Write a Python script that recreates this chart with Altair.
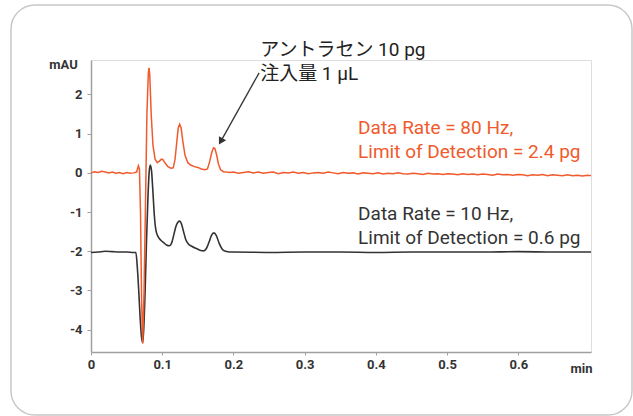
import altair as alt
import pandas as pd

# ---- data ----
# 80 Hz trace (orange)
t80 = [0.000, 0.005, 0.010, 0.015, 0.020, 0.025, 0.030, 0.035, 0.040, 0.045,
       0.050, 0.055, 0.060, 0.064, 0.0665, 0.068, 0.0695, 0.071, 0.0726, 0.0745,
       0.0765, 0.0785, 0.0805, 0.0815, 0.0825, 0.0845, 0.087, 0.090, 0.093, 0.096,
       0.099, 0.101, 0.104, 0.108, 0.112, 0.1155, 0.118, 0.1205, 0.1225, 0.1245,
       0.1265, 0.129, 0.132, 0.136, 0.140, 0.145, 0.150, 0.155, 0.160, 0.1635,
       0.1665, 0.1695, 0.172, 0.174, 0.1765, 0.179, 0.182, 0.186, 0.190, 0.195,
       0.200, 0.207, 0.214, 0.221, 0.228, 0.235, 0.242, 0.249, 0.256, 0.263,
       0.270, 0.277, 0.284, 0.291, 0.298, 0.305, 0.312, 0.319, 0.326, 0.333,
       0.340, 0.347, 0.354, 0.361, 0.368, 0.375, 0.382, 0.389, 0.396, 0.403,
       0.410, 0.417, 0.424, 0.431, 0.438, 0.445, 0.452, 0.459, 0.466, 0.473,
       0.480, 0.487, 0.494, 0.501, 0.508, 0.515, 0.522, 0.529, 0.536, 0.543,
       0.550, 0.557, 0.564, 0.571, 0.578, 0.585, 0.592, 0.599, 0.606, 0.613,
       0.620, 0.627, 0.634, 0.641, 0.648, 0.655, 0.662, 0.669, 0.676, 0.683,
       0.690, 0.697, 0.702]
v80 = [0.00, 0.03, 0.01, 0.04, 0.02, 0.00, 0.02, -0.01, 0.01, -0.02,
       0.01, -0.01, 0.00, 0.02, 0.18, 0.10, -1.00, -3.20, -4.35, -3.00,
       -0.80, 1.50, 2.55, 2.68, 2.50, 1.50, 0.70, 0.35, 0.26, 0.30,
       0.35, 0.34, 0.25, 0.16, 0.12, 0.13, 0.35, 0.80, 1.15, 1.24,
       1.15, 0.80, 0.45, 0.26, 0.20, 0.16, 0.14, 0.10, 0.08, 0.10,
       0.28, 0.52, 0.64, 0.62, 0.45, 0.22, 0.08, 0.03, 0.02, 0.01,
       0.02, -0.01, 0.01, 0.03, 0.00, 0.02, -0.01, 0.01, 0.02, -0.02,
       0.01, 0.00, 0.02, -0.01, 0.01, -0.02, 0.00, 0.01, -0.01, 0.02,
       0.00, -0.02, 0.01, -0.01, 0.00, -0.03, 0.00, -0.01, -0.02, 0.00,
       -0.03, -0.01, -0.02, 0.00, -0.02, -0.03, -0.01, -0.02, -0.04, -0.01,
       -0.03, -0.02, -0.04, -0.02, -0.03, -0.05, -0.02, -0.04, -0.03, -0.05,
       -0.03, -0.04, -0.06, -0.03, -0.05, -0.04, -0.06, -0.04, -0.05, -0.07,
       -0.05, -0.06, -0.04, -0.07, -0.05, -0.06, -0.07, -0.05, -0.07, -0.06,
       -0.08, -0.06, -0.07]

# 10 Hz trace (dark grey)
t10 = [0.000, 0.010, 0.020, 0.030, 0.040, 0.050, 0.060, 0.063, 0.065, 0.067,
       0.069, 0.071, 0.0726, 0.074, 0.076, 0.078, 0.080, 0.0818, 0.0833, 0.085,
       0.087, 0.089, 0.091, 0.094, 0.098, 0.102, 0.106, 0.110, 0.113, 0.116,
       0.119, 0.122, 0.1245, 0.127, 0.130, 0.133, 0.137, 0.142, 0.148, 0.154,
       0.158, 0.162, 0.166, 0.169, 0.1725, 0.176, 0.180, 0.184, 0.189, 0.195,
       0.200, 0.250, 0.300, 0.350, 0.400, 0.450, 0.500, 0.550, 0.600, 0.650,
       0.702]
v10 = [-2.03, -2.02, -2.00, -2.01, -2.02, -2.02, -2.03, -2.03, -2.40, -3.00,
       -3.70, -4.20, -4.33, -4.00, -3.00, -1.70, -0.60, 0.05, 0.20, 0.05,
       -0.50, -1.10, -1.45, -1.62, -1.72, -1.78, -1.84, -1.86, -1.80, -1.60,
       -1.38, -1.26, -1.23, -1.30, -1.50, -1.70, -1.82, -1.88, -1.93, -1.98,
       -1.99, -1.93, -1.75, -1.60, -1.53, -1.60, -1.80, -1.94, -2.00, -2.02,
       -2.02, -2.03, -2.02, -2.02, -2.03, -2.02, -2.02, -2.02, -2.01, -2.02,
       -2.02]

# annotation texts and their anchor positions (data units)
note_lines = ["アントラセン 10 pg", "注入量 1 µL"]
note_t = [0.2375, 0.2375]
note_v = [3.13, 2.52]
rate80_lines = ["Data Rate = 80 Hz,", "Limit of Detection = 2.4 pg"]
rate10_lines = ["Data Rate = 10 Hz,", "Limit of Detection = 0.6 pg"]
label_t = [0.375, 0.375]
rate80_v = [1.15, 0.54]
rate10_v = [-1.05, -1.66]
arrow_from = (0.236, 2.55)
arrow_to = (0.183, 0.83)

ORANGE = "#f05a2c"
DARK = "#333333"
FONT = "Roboto"
JFONT = "Roboto, Noto Sans CJK JP"

xs = alt.Scale(domain=[0, 0.702], nice=False, zero=False)
ys = alt.Scale(domain=[-4.57, 2.88], nice=False, zero=False)

df80 = pd.DataFrame({"t": t80, "v": v80})
df10 = pd.DataFrame({"t": t10, "v": v10})

frame = alt.Chart(pd.DataFrame({"a": [0]})).mark_rect(
    fill="white", fillOpacity=0, stroke="#c8c8c8", strokeWidth=1.5, cornerRadius=24
).encode(x=alt.value(-80), x2=alt.value(541), y=alt.value(-55), y2=alt.value(355))

line10 = alt.Chart(df10).mark_line(color=DARK, strokeWidth=1.6, interpolate="monotone").encode(
    x=alt.X("t:Q", scale=xs, axis=alt.Axis(
        values=[0, 0.1, 0.2, 0.3, 0.4, 0.5, 0.6], labelExpr="'' + datum.value", title="min",
        titleX=490, titleY=16, titleAlign="center", titleBaseline="middle",
        titleFont=FONT, titleFontSize=13, titleFontWeight="bold", titleColor=DARK,
        labelFont=FONT, labelFontSize=13, labelFontWeight="bold", labelColor=DARK,
        domainColor="#a0a0a0", domainWidth=1.5, tickColor="#a0a0a0", tickSize=3,
        labelPadding=3, grid=False, labelFlush=False)),
    y=alt.Y("v:Q", scale=ys, axis=alt.Axis(
        values=[-4, -3, -2, -1, 0, 1, 2], labelExpr="'' + datum.value", title="mAU", titleAngle=0,
        titleX=-28, titleY=4, titleAlign="center", titleBaseline="middle",
        titleFont=FONT, titleFontSize=13, titleFontWeight="bold", titleColor=DARK,
        labelFont=FONT, labelFontSize=13, labelFontWeight="bold", labelColor=DARK,
        domainColor="#a0a0a0", domainWidth=1.5, tickColor="#a0a0a0", tickSize=4,
        labelPadding=5, grid=False)),
)

line80 = alt.Chart(df80).mark_line(color=ORANGE, strokeWidth=1.5).encode(
    x=alt.X("t:Q", scale=xs), y=alt.Y("v:Q", scale=ys))

arrow_df = pd.DataFrame({"t": [arrow_from[0]], "v": [arrow_from[1]],
                         "t2": [arrow_to[0]], "v2": [arrow_to[1]]})
arrow_line = alt.Chart(arrow_df).mark_rule(color="#333333", strokeWidth=1.3).encode(
    x=alt.X("t:Q", scale=xs), y=alt.Y("v:Q", scale=ys), x2="t2:Q", y2="v2:Q")
arrow_head = alt.Chart(arrow_df).mark_point(
    shape="triangle", filled=True, color="#333333", size=70, angle=210, opacity=1
).encode(x=alt.X("t2:Q", scale=xs), y=alt.Y("v2:Q", scale=ys))

def text_layer(lines, tt, vv, color, font):
    d = pd.DataFrame({"t": tt, "v": vv, "s": lines})
    return alt.Chart(d).mark_text(
        align="left", baseline="middle", font=font, fontSize=19, color=color
    ).encode(x=alt.X("t:Q", scale=xs), y=alt.Y("v:Q", scale=ys), text="s:N")

note = text_layer(note_lines, note_t, note_v, "#222222", JFONT)
txt80 = text_layer(rate80_lines, label_t, rate80_v, ORANGE, FONT)
txt10 = text_layer(rate10_lines, label_t, rate10_v, DARK, FONT)

chart = alt.layer(frame, line10, line80, arrow_line, arrow_head, note, txt80, txt10).properties(
    width=500, height=292,
    autosize=alt.AutoSizeParams(type="none"),
    padding={"left": 91, "top": 60, "right": 42, "bottom": 64},
).configure_view(stroke=None).configure(background="white")

chart.save("out.html", embed_options={"renderer": "svg", "actions": False})
